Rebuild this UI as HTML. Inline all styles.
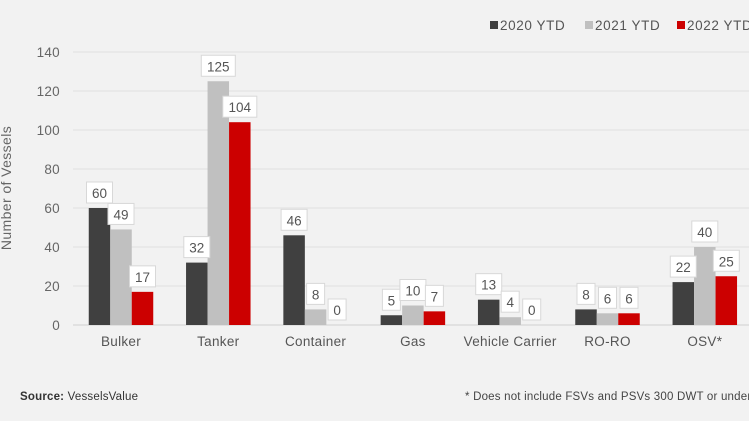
<!DOCTYPE html>
<html><head><meta charset="utf-8"><style>
html,body{margin:0;padding:0;background:#f2f2f2;}
svg{display:block;font-family:"Liberation Sans",sans-serif;}
</style></head><body>
<svg id="c" width="749" height="421">
<rect width="749" height="421" fill="#f2f2f2"/>
<g id="grid"></g><g id="bars"></g><g id="labels"></g>
<text transform="translate(11,188) rotate(-90)" text-anchor="middle" font-size="14" letter-spacing="0.4" fill="#666">Number of Vessels</text>
<g font-size="13.5" letter-spacing="0.6" fill="#555">
<rect x="490" y="21" width="8" height="8" fill="#404040"/>
<text x="500" y="30">2020 YTD</text>
<rect x="585" y="21" width="8" height="8" fill="#c0c0c0"/>
<text x="595" y="30">2021 YTD</text>
<rect x="677" y="21" width="8" height="8" fill="#cc0000"/>
<text x="687" y="30">2022 YTD</text>
</g>
<text x="20" y="400" font-size="11.5" letter-spacing="0.2" fill="#333"><tspan font-weight="bold">Source:</tspan> VesselsValue</text>
<text x="465" y="400" font-size="11.5" letter-spacing="0.2" fill="#444">* Does not include FSVs and PSVs 300 DWT or under</text>
</svg>
<script>
const categories=["Bulker","Tanker","Container","Gas","Vehicle Carrier","RO-RO","OSV*"];
const s2020=[60,32,46,5,13,8,22];
const s2021=[49,125,8,10,4,6,40];
const s2022=[17,104,0,7,0,6,25];
const yTicks=[0,20,40,60,80,100,120,140];
const NS="http://www.w3.org/2000/svg";
const y=v=>325-v*273/140;
const cx=i=>121+i*97.3;
const bw=21.5;
const grid=document.getElementById('grid'),bars=document.getElementById('bars'),labels=document.getElementById('labels');
function mk(tag,attrs,parent){const e=document.createElementNS(NS,tag);for(const k in attrs)e.setAttribute(k,attrs[k]);parent.appendChild(e);return e;}
yTicks.forEach(t=>{
 const l=mk('line',{x1:73,x2:749,y1:y(t),y2:y(t),stroke:t===0?'#d0d0d0':'#e0e0e0','stroke-width':1},grid);
 
 
 const tx=mk('text',{x:60,y:y(t)+5,'text-anchor':'end','font-size':13.5,'letter-spacing':0.3,fill:'#666'},grid);tx.textContent=t;
 
 
});
const series=[[s2020,'#404040','2020'],[s2021,'#c0c0c0','2021'],[s2022,'#cc0000','2022']];
categories.forEach((c,i)=>{
 const tx=mk('text',{x:cx(i),y:346,'text-anchor':'middle','font-size':13.5,'letter-spacing':0.3,fill:'#555'},labels);tx.textContent=c;
 
 
 series.forEach(([arr,col,nm],j)=>{
  const x0=cx(i)-1.5*bw+j*bw,v=arr[i];
  const r=mk('rect',{x:x0,y:y(v),width:bw,height:325-y(v),fill:col},bars);
  
  
  const txt=String(v),w=txt.length*8+10;
  const b=mk('rect',{x:x0+bw/2-w/2,y:y(v)-26,width:w,height:21,fill:'#fff',stroke:'#d8d8d8','stroke-width':1},labels);
  
  
  const t=mk('text',{x:x0+bw/2,y:y(v)-10,'text-anchor':'middle','font-size':13.5,fill:'#555'},labels);t.textContent=txt;
  
  
 });
});
</script>
</body></html>
